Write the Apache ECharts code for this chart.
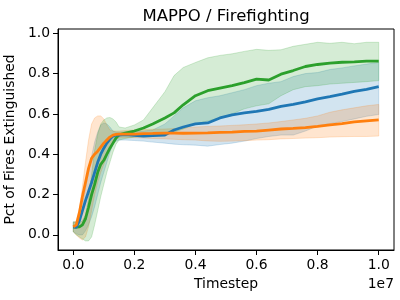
<!DOCTYPE html>
<html>
<head>
<meta charset="utf-8">
<script src="https://cdn.jsdelivr.net/npm/echarts@6/dist/echarts.min.js"></script>
<style>html,body{margin:0;padding:0;background:#fff;}#c{width:400px;height:300px;}</style>
</head>
<body>
<div id="c"></div>
<script>
// Timesteps in millions
var T = [0,0.1,0.2,0.3,0.4,0.5,0.6,0.7,0.8,0.9,1.0,1.1,1.2,1.3,1.4,1.5,1.7,2.0,2.3,2.6,3.0,3.3,3.6,4.0,4.4,4.8,5.2,5.6,6.0,6.4,6.8,7.2,7.6,8.0,8.4,8.8,9.2,9.6,10.0];

var blueMean = [0.04,0.037,0.07,0.12,0.17,0.215,0.26,0.31,0.36,0.40,0.43,0.455,0.475,0.49,0.495,0.495,0.497,0.493,0.49,0.492,0.495,0.52,0.535,0.55,0.555,0.58,0.595,0.605,0.613,0.622,0.637,0.647,0.66,0.675,0.686,0.698,0.712,0.722,0.735];
var blueUpper = [0.065,0.065,0.09,0.15,0.23,0.31,0.39,0.46,0.51,0.545,0.555,0.55,0.535,0.515,0.51,0.51,0.512,0.515,0.515,0.52,0.55,0.59,0.63,0.665,0.68,0.69,0.705,0.72,0.74,0.752,0.76,0.785,0.80,0.805,0.82,0.828,0.838,0.847,0.855];
var blueLower = [0.015,0.005,0.0,0.0,0.02,0.05,0.09,0.14,0.2,0.26,0.31,0.36,0.41,0.45,0.465,0.47,0.47,0.468,0.465,0.46,0.455,0.45,0.447,0.445,0.44,0.448,0.455,0.465,0.478,0.488,0.495,0.495,0.515,0.54,0.552,0.562,0.575,0.588,0.597];

var orangeMean = [0.04,0.05,0.11,0.19,0.26,0.33,0.38,0.40,0.415,0.435,0.455,0.47,0.485,0.495,0.498,0.50,0.50,0.50,0.502,0.503,0.505,0.505,0.504,0.505,0.506,0.508,0.51,0.513,0.515,0.52,0.525,0.528,0.532,0.538,0.545,0.552,0.56,0.565,0.57];
var orangeUpper = [0.06,0.07,0.13,0.24,0.36,0.47,0.55,0.58,0.59,0.59,0.575,0.545,0.52,0.515,0.515,0.515,0.518,0.52,0.522,0.524,0.525,0.527,0.53,0.535,0.538,0.54,0.543,0.546,0.55,0.555,0.562,0.57,0.578,0.59,0.608,0.62,0.63,0.64,0.647];
var orangeLower = [0.015,0.0,-0.015,-0.025,-0.01,0.04,0.12,0.2,0.26,0.31,0.35,0.39,0.43,0.46,0.475,0.48,0.482,0.482,0.48,0.478,0.476,0.474,0.472,0.47,0.466,0.464,0.465,0.467,0.47,0.472,0.476,0.478,0.48,0.482,0.485,0.487,0.488,0.488,0.49];

var greenMean = [0.04,0.038,0.04,0.05,0.08,0.137,0.2,0.25,0.31,0.35,0.37,0.40,0.43,0.455,0.48,0.496,0.505,0.515,0.53,0.55,0.58,0.605,0.645,0.69,0.715,0.728,0.74,0.755,0.772,0.768,0.797,0.815,0.835,0.845,0.852,0.856,0.858,0.862,0.862];
var greenUpper = [0.065,0.06,0.06,0.07,0.1,0.18,0.3,0.42,0.5,0.55,0.57,0.58,0.582,0.575,0.56,0.535,0.53,0.545,0.57,0.63,0.71,0.79,0.83,0.855,0.878,0.89,0.898,0.91,0.92,0.915,0.918,0.935,0.945,0.955,0.95,0.955,0.948,0.955,0.955];
var greenLower = [0.015,0.0,-0.01,-0.02,-0.03,-0.03,-0.01,0.05,0.12,0.19,0.25,0.31,0.36,0.41,0.45,0.47,0.478,0.485,0.488,0.49,0.498,0.51,0.525,0.55,0.565,0.58,0.6,0.625,0.64,0.65,0.69,0.72,0.735,0.74,0.748,0.752,0.756,0.76,0.765];

var xTicks = [0, 2e6, 4e6, 6e6, 8e6, 1e7];
var yTicks = [0, 0.2, 0.4, 0.6, 0.8, 1.0];

var FONT = 'DejaVu Sans';
var COLORS = {blue: '#1f77b4', orange: '#ff7f0e', green: '#2ca02c'};

function pairs(arr) { return T.map(function (t, i) { return [t * 1e6, arr[i]]; }); }

function band(name, upper, lower, rgb) {
  return {
    type: 'custom', name: name + ' band', silent: true, z: 1,
    data: [[0, 0]], encode: {x: 0, y: 1},
    renderItem: function (params, api) {
      var pts = [];
      for (var i = 0; i < T.length; i++) pts.push(api.coord([T[i] * 1e6, upper[i]]));
      for (var j = T.length - 1; j >= 0; j--) pts.push(api.coord([T[j] * 1e6, lower[j]]));
      return {type: 'polygon', shape: {points: pts},
        style: {fill: 'rgba(' + rgb + ',0.2)', stroke: 'rgba(' + rgb + ',0.2)', lineWidth: 1}};
    }
  };
}
function line(name, arr, color) {
  return {type: 'line', name: name, data: pairs(arr), showSymbol: false, z: 3,
    lineStyle: {color: color, width: 2.8}, itemStyle: {color: color}, silent: true};
}

var chart = echarts.init(document.getElementById('c'), null, {renderer: 'canvas'});
chart.setOption({
  animation: false,
  backgroundColor: '#fff',
  title: {text: 'MAPPO / Firefighting', left: 221, top: 3, textAlign: 'center',
    textStyle: {fontFamily: FONT, fontSize: 16.5, fontWeight: 'normal', color: '#000'}},
  grid: {left: 58, right: 6, top: 29, bottom: 50, show: true, borderColor: '#000', borderWidth: 1,
    containLabel: false, outerBoundsMode: 'none'},
  xAxis: {
    type: 'value', min: -5e5, max: 10.5e6,
    name: 'Timestep', nameLocation: 'middle', nameGap: 27,
    nameTextStyle: {fontFamily: FONT, fontSize: 13.9, color: '#000'},
    axisLine: {show: true, onZero: false, lineStyle: {color: '#000', width: 1}},
    axisTick: {show: true, customValues: xTicks, length: 5, lineStyle: {color: '#000'}},
    axisLabel: {customValues: xTicks, margin: 8, fontFamily: FONT, fontSize: 13.9, color: '#000',
      formatter: function (v) { return (v / 1e7).toFixed(1); }},
    splitLine: {show: false}
  },
  yAxis: {
    type: 'value', min: -0.075, max: 1.021,
    name: 'Pct of Fires Extinguished', nameLocation: 'middle', nameGap: 38,
    nameTextStyle: {fontFamily: FONT, fontSize: 13.9, color: '#000'},
    axisLine: {show: true, onZero: false, lineStyle: {color: '#000', width: 1}},
    axisTick: {show: true, customValues: yTicks, length: 5, lineStyle: {color: '#000'}},
    axisLabel: {customValues: yTicks, margin: 8, fontFamily: FONT, fontSize: 13.9, color: '#000',
      formatter: function (v) { return v.toFixed(1); }},
    splitLine: {show: false}
  },
  graphic: [{type: 'text', right: 6, top: 277,
    style: {text: '1e7', fontFamily: FONT, fontSize: 13.9, fill: '#000'}}],
  series: [
    band('blue', blueUpper, blueLower, '31,119,180'),
    band('orange', orangeUpper, orangeLower, '255,127,14'),
    band('green', greenUpper, greenLower, '44,160,44'),
    line('green', greenMean, COLORS.green),
    line('blue', blueMean, COLORS.blue),
    line('orange', orangeMean, COLORS.orange)
  ]
});
</script>
</body>
</html>
